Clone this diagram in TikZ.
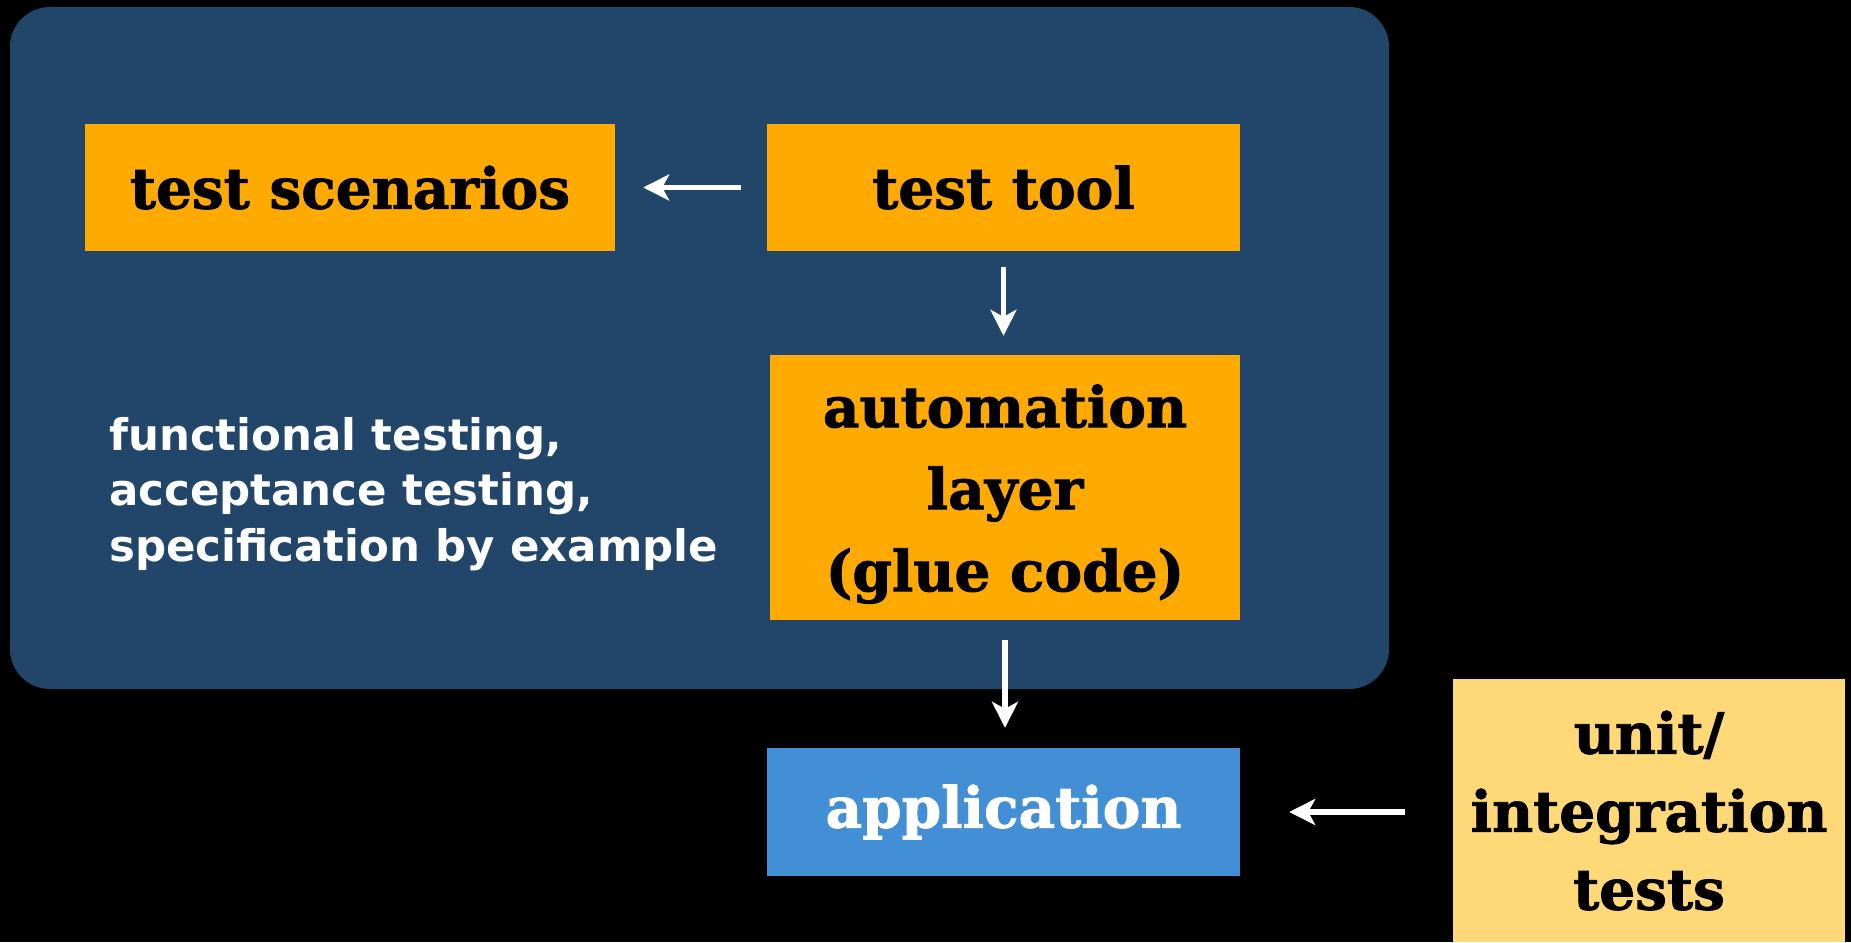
\documentclass[tikz,border=0pt]{standalone}
\usepackage{fontspec}
\usetikzlibrary{arrows.meta}
\newfontfamily\boxfont{DejaVu Serif Bold}[FakeBold=1.6]
\newfontfamily\notefont{DejaVu Sans}
\definecolor{panelblue}{HTML}{22466A}
\definecolor{boxorange}{HTML}{FFAA00}
\definecolor{appblue}{HTML}{428FD6}
\definecolor{unityellow}{HTML}{FFD878}
\tikzset{
  stagebox/.style={fill=boxorange, text=black, inner sep=0pt, align=center,
    font=\fontsize{56.5}{82}\boxfont},
  flow/.style={draw=white, line width=5.5pt,
    -{Stealth[length=26pt,width=26pt,inset=7pt]}},
}
\begin{document}
\begin{tikzpicture}[x=1pt,y=-1pt]
  % page background and bounds
  \fill[black] (0,0) rectangle (1851,942);
  \useasboundingbox (0,0) rectangle (1851,942);
  % panel holding the acceptance-testing stack
  \fill[panelblue, rounded corners=40pt] (10,7) rectangle (1389,689);

  \node[stagebox, minimum width=530pt, minimum height=127pt] (scen) at (350,187.5) {test scenarios};
  \node[stagebox, minimum width=473pt, minimum height=127pt] (tool) at (1003.5,187.5) {test tool};
  \node[stagebox, minimum width=470pt, minimum height=265pt] (auto) at (1005,487.5) {};
  \node[align=center, inner sep=0pt, font=\fontsize{56.5}{82}\boxfont]
    (autotext) at (1005,494) {automation\\layer\\(glue code)};
  \node[stagebox, fill=appblue, text=white, minimum width=473pt, minimum height=128pt]
    (app) at (1003.5,812) {application};
  \node[stagebox, fill=unityellow, minimum width=392pt, minimum height=263pt,
    font=\fontsize{56.5}{78}\boxfont] (unit) at (1649,810.5)
    {unit/\\integration\\tests};

  \node[text=white, align=left, anchor=west, inner sep=0pt,
    font=\fontsize{43.5}{55.5}\notefont\bfseries] (note) at (109,494)
    {functional testing,\\acceptance testing,\\specification by example};

  % connectors
  \draw[flow, shorten <=26pt, shorten >=28pt] (tool.west) -- (scen.east);
  \draw[flow, shorten <=16pt, shorten >=19pt] (tool.south) -- (tool.south |- auto.north);
  \draw[flow, shorten <=20pt, shorten >=20pt] (auto.south) -- (auto.south |- app.north);
  \draw[flow, shorten <=48pt, shorten >=49pt] (unit.west |- app.east) -- (app.east);
\end{tikzpicture}
\end{document}
